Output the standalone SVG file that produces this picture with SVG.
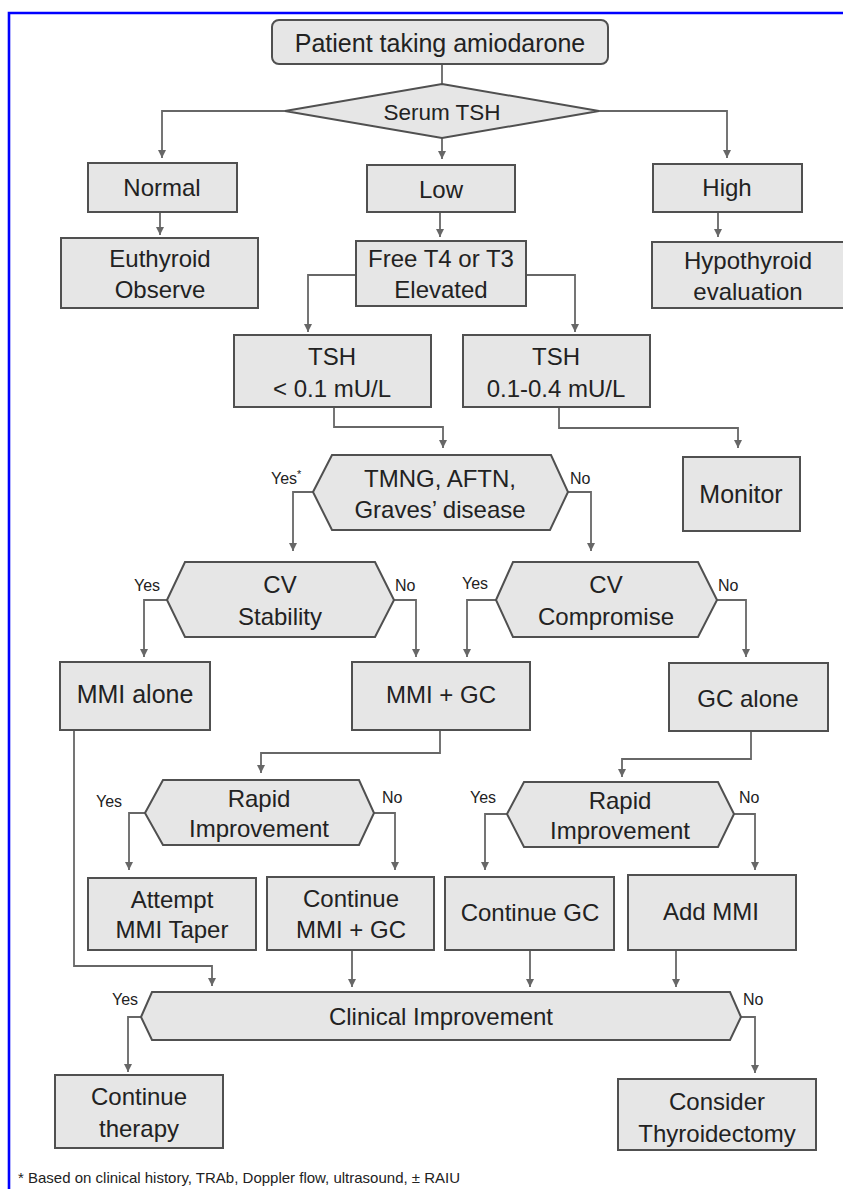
<svg xmlns="http://www.w3.org/2000/svg" width="843" height="1189" viewBox="0 0 843 1189">
<style>
.box{fill:#e6e6e6;stroke:#505050;stroke-width:2}
.t{font-family:"Liberation Sans",Arial,sans-serif;font-size:24px;fill:#222;text-anchor:middle}
.lbl{font-family:"Liberation Sans",Arial,sans-serif;font-size:16px;fill:#222}
.c{fill:none;stroke:#676767;stroke-width:1.8;marker-end:url(#ah)}
.cn{fill:none;stroke:#676767;stroke-width:1.8}
.fn{font-family:"Liberation Sans",Arial,sans-serif;font-size:15px;fill:#222}
</style>
<defs>
<marker id="ah" viewBox="0 0 10 10" refX="10" refY="5" markerWidth="8" markerHeight="8" markerUnits="userSpaceOnUse" orient="auto"><path d="M0,0 L10,5 L0,10 z" fill="#676767"/></marker>
</defs>
<rect width="843" height="1189" fill="#fff"/>
<path d="M9,1195 V13 H850" fill="none" stroke="#0000ff" stroke-width="2.6"/>

<g id="connectors">
<path class="cn" d="M442,64 V84"/>
<path class="c" d="M285,111 H162 V158"/>
<path class="c" d="M442,138 V159"/>
<path class="c" d="M599,111 H727 V158"/>
<path class="c" d="M160,212 V235"/>
<path class="c" d="M440,212 V237"/>
<path class="c" d="M718,212 V237"/>
<path class="c" d="M356,275 H308 V332"/>
<path class="c" d="M526,275 H575 V332"/>
<path class="c" d="M334,407 V427 H443 V448"/>
<path class="c" d="M559,407 V428 H738 V448"/>
<path class="c" d="M313,492 H293 V551"/>
<path class="c" d="M568,492 H591 V551"/>
<path class="c" d="M167,600 H144 V657"/>
<path class="c" d="M394,600 H416 V657"/>
<path class="c" d="M496,600 H467 V657"/>
<path class="c" d="M717,600 H746 V657"/>
<path class="c" d="M74,730 V966 H212 V986"/>
<path class="c" d="M440,730 V753 H261 V773"/>
<path class="c" d="M751,731 V759 H622 V777"/>
<path class="c" d="M145,813 H129 V870"/>
<path class="c" d="M374,813 H395 V870"/>
<path class="c" d="M507,814 H485 V870"/>
<path class="c" d="M734,814 H755 V870"/>
<path class="c" d="M352,950 V987"/>
<path class="c" d="M530,950 V987"/>
<path class="c" d="M676,950 V987"/>
<path class="c" d="M141,1017 H128 V1072"/>
<path class="c" d="M741,1017 H755 V1073"/>
</g>

<g id="start"><rect class="box" x="272" y="20" width="336" height="44" rx="7"/><text class="t" x="440" y="52" style="font-size:25px">Patient taking amiodarone</text></g>
<g id="serum-tsh"><polygon class="box" points="442,84 599,111 442,138 285,111"/><text class="t" x="442" y="120" style="font-size:22.5px">Serum TSH</text></g>
<g id="normal"><rect class="box" x="88" y="163" width="149" height="49"/><text class="t" x="162" y="196">Normal</text></g>
<g id="low"><rect class="box" x="367" y="165" width="148" height="47"/><text class="t" x="441" y="198">Low</text></g>
<g id="high"><rect class="box" x="653" y="164" width="149" height="48"/><text class="t" x="727" y="196">High</text></g>
<g id="euthyroid"><rect class="box" x="61" y="238" width="197" height="70"/><text class="t" x="160" y="267">Euthyroid</text><text class="t" x="160" y="298">Observe</text></g>
<g id="free-t4"><rect class="box" x="356" y="241" width="170" height="65"/><text class="t" x="441" y="267">Free T4 or T3</text><text class="t" x="441" y="298">Elevated</text></g>
<g id="hypothyroid"><rect class="box" x="652" y="242" width="196" height="66"/><text class="t" x="748" y="269">Hypothyroid</text><text class="t" x="748" y="300">evaluation</text></g>
<g id="tsh-low"><rect class="box" x="234" y="335" width="197" height="72"/><text class="t" x="332" y="365">TSH</text><text class="t" x="332" y="397">&lt; 0.1 mU/L</text></g>
<g id="tsh-mid"><rect class="box" x="463" y="335" width="187" height="72"/><text class="t" x="556" y="365">TSH</text><text class="t" x="556" y="397">0.1-0.4 mU/L</text></g>
<g id="tmng"><polygon class="box" points="313,492 332,455 551,455 568,492 550,530 332,530"/><text class="t" x="440" y="487">TMNG, AFTN,</text><text class="t" x="440" y="518">Graves’ disease</text><text class="lbl" x="271" y="484">Yes<tspan font-size="11" dy="-6">*</tspan></text><text class="lbl" x="570" y="484">No</text></g>
<g id="monitor"><rect class="box" x="683" y="457" width="117" height="74"/><text class="t" x="741" y="503" style="font-size:25px">Monitor</text></g>
<g id="cv-stability"><polygon class="box" points="167,600 185,562 375,562 394,600 375,637 185,637"/><text class="t" x="280" y="593">CV</text><text class="t" x="280" y="625">Stability</text><text class="lbl" x="134" y="591">Yes</text><text class="lbl" x="395" y="591">No</text></g>
<g id="cv-compromise"><polygon class="box" points="496,600 513,562 698,562 717,600 698,637 513,637"/><text class="t" x="606" y="593">CV</text><text class="t" x="606" y="625">Compromise</text><text class="lbl" x="462" y="589">Yes</text><text class="lbl" x="718" y="591">No</text></g>
<g id="mmi-alone"><rect class="box" x="60" y="662" width="150" height="68"/><text class="t" x="135" y="703" style="font-size:25px">MMI alone</text></g>
<g id="mmi-gc"><rect class="box" x="352" y="662" width="178" height="68"/><text class="t" x="441" y="703">MMI + GC</text></g>
<g id="gc-alone"><rect class="box" x="669" y="663" width="159" height="68"/><text class="t" x="748" y="707">GC alone</text></g>
<g id="rapid-1"><polygon class="box" points="145,813 163,780 359,780 374,813 359,845 163,845"/><text class="t" x="259" y="807">Rapid</text><text class="t" x="259" y="837">Improvement</text><text class="lbl" x="96" y="807">Yes</text><text class="lbl" x="382" y="803">No</text></g>
<g id="rapid-2"><polygon class="box" points="507,814 524,782 718,782 734,814 718,847 524,847"/><text class="t" x="620" y="809">Rapid</text><text class="t" x="620" y="839">Improvement</text><text class="lbl" x="470" y="803">Yes</text><text class="lbl" x="739" y="803">No</text></g>
<g id="attempt-taper"><rect class="box" x="88" y="878" width="168" height="72"/><text class="t" x="172" y="908">Attempt</text><text class="t" x="172" y="938">MMI Taper</text></g>
<g id="continue-mmi-gc"><rect class="box" x="267" y="877" width="167" height="73"/><text class="t" x="351" y="907">Continue</text><text class="t" x="351" y="938">MMI + GC</text></g>
<g id="continue-gc"><rect class="box" x="445" y="877" width="169" height="73"/><text class="t" x="530" y="921">Continue GC</text></g>
<g id="add-mmi"><rect class="box" x="628" y="875" width="168" height="75"/><text class="t" x="711" y="920">Add MMI</text></g>
<g id="clinical"><polygon class="box" points="141,1017 152,992 730,992 741,1017 730,1040 152,1040"/><text class="t" x="441" y="1025">Clinical Improvement</text><text class="lbl" x="112" y="1005">Yes</text><text class="lbl" x="743" y="1005">No</text></g>
<g id="continue-therapy"><rect class="box" x="55" y="1075" width="168" height="73"/><text class="t" x="139" y="1105">Continue</text><text class="t" x="139" y="1137">therapy</text></g>
<g id="thyroidectomy"><rect class="box" x="618" y="1079" width="198" height="71"/><text class="t" x="717" y="1110">Consider</text><text class="t" x="717" y="1142">Thyroidectomy</text></g>
<text class="fn" x="18" y="1183">* Based on clinical history, TRAb, Doppler flow, ultrasound, ± RAIU</text>
</svg>
